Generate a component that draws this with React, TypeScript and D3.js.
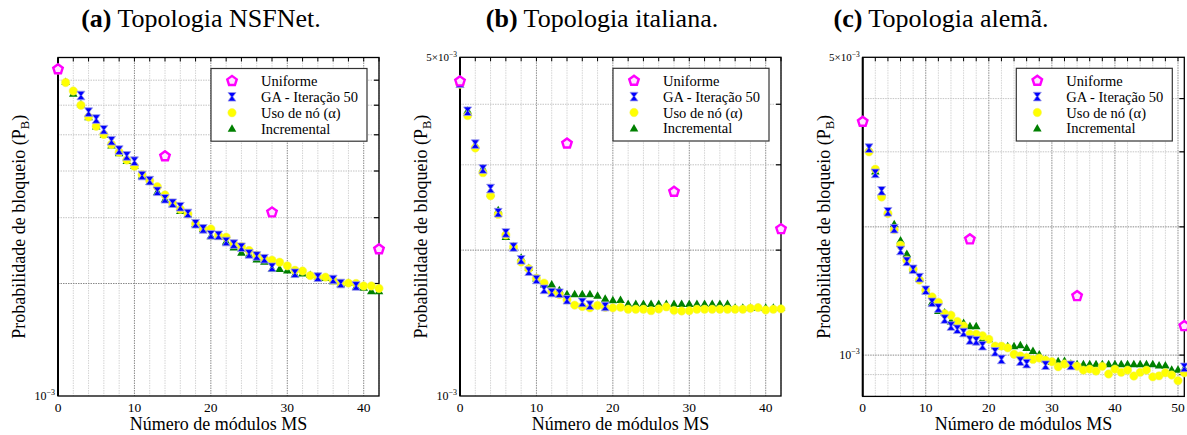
import React from 'react';
import * as d3 from 'd3';

// ---------- text ----------
const titleTags = ['(a)', '(b)', '(c)'];
const titleTexts = [' Topologia NSFNet.', ' Topologia italiana.', ' Topologia alemã.'];
const seriesNames = ['Uniforme', 'GA - Iteração 50', 'Uso de nó (α)', 'Incremental'];
const xLabel = 'Número de módulos MS';
const yLabelMain = 'Probabilidade de bloqueio (P';
const yLabelSub = 'B';

// ---------- data (values in units of 10^-3) ----------
const xTicksAB = [0, 10, 20, 30, 40];
const xTicksC = [0, 10, 20, 30, 40, 50];

// (a) NSFNet
const uniformeXA = [0, 14, 28, 42];
const uniformeA = [7.49, 4.38, 3.10, 2.47];
const gaA = [null, null, null, 6.37, 5.75, 5.51, 5.16, 4.82, 4.55, 4.39, 4.25, 3.89, 3.77, 3.53, 3.37, 3.28, 3.21, 3.08, 2.89, 2.80, 2.70, 2.69, 2.59, 2.55, 2.50, 2.40, 2.37, 2.33, 2.21, null, null, 2.13, null, null, 2.08, null, 2.05, 2.00, null, 1.97, null, null, null];
const usoA = [7.45, 6.90, 6.55, 6.00, 5.58, 5.27, 5.01, 4.71, 4.49, 4.28, 4.12, 3.91, 3.77, 3.63, 3.45, 3.28, 3.16, 3.07, 2.89, 2.80, 2.80, 2.69, 2.66, 2.55, 2.51, 2.45, 2.38, 2.33, 2.31, 2.28, 2.23, 2.17, 2.16, 2.10, 2.08, 2.08, 2.04, 2.00, 2.005, 2.00, 1.97, 1.97, 1.94];
const incA = [7.45, 6.93, 6.45, 6.04, 5.58, 5.27, 5.01, 4.69, 4.47, 4.26, 4.13, 3.89, 3.75, 3.52, 3.36, 3.28, 3.13, 3.07, 2.89, 2.80, 2.68, 2.67, 2.59, 2.50, 2.42, 2.39, 2.32, 2.29, 2.19, 2.19, 2.17, 2.12, 2.13, 2.11, 2.09, 2.07, 2.03, 2.00, 2.01, 1.96, 1.95, 1.91, 1.91];

// (b) italiana
const uniformeXB = [0, 14, 28, 42];
const uniformeB = [4.46, 3.32, 2.64, 2.21];
const gaB = [4.42, 3.87, 3.31, 2.94, 2.68, 2.39, 2.17, 2.03, 1.91, 1.81, 1.74, 1.66, 1.635, 1.63, 1.58, null, 1.56, 1.54, null, 1.53, null, null, null, null, null, null, null, null, null, null, null, null, null, null, null, null, null, null, null, null, null, null, null];
const usoB = [4.40, 3.79, 3.25, 2.89, 2.59, 2.37, 2.15, 2.03, 1.89, 1.83, 1.75, 1.71, 1.64, 1.62, 1.58, 1.54, 1.53, 1.52, 1.537, 1.525, 1.52, 1.525, 1.51, 1.51, 1.51, 1.50, 1.512, 1.527, 1.502, 1.498, 1.50, 1.51, 1.51, 1.51, 1.51, 1.51, 1.51, 1.51, 1.517, 1.522, 1.505, 1.51, 1.513];
const incB = [4.40, 3.88, 3.30, 2.95, 2.62, 2.42, 2.13, 2.04, 1.93, 1.84, 1.75, 1.70, 1.70, 1.655, 1.624, 1.624, 1.624, 1.624, 1.611, 1.588, 1.578, 1.58, 1.549, 1.549, 1.549, 1.549, 1.549, 1.549, 1.549, 1.549, 1.549, 1.549, 1.549, 1.549, 1.549, 1.549, 1.522, 1.522, 1.522, 1.522, 1.522, 1.522, 1.522];

// (c) alemã
const uniformeXC = [0, 17, 34, 51];
const uniformeC = [3.53, 1.87, 1.376, 1.17];
const gaC = [null, 3.06, 2.67, 2.43, 2.17, 1.98, 1.76, 1.66, 1.59, 1.52, 1.42, 1.33, 1.29, 1.215, 1.17, 1.15, 1.13, 1.085, 1.08, 1.052, null, 1.018, 0.977, null, null, 0.968, 0.955, null, null, 0.947, null, null, null, 0.946, null, null, null, null, null, null, null, null, null, null, null, null, null, null, null, null, null, 0.936];
const usoC = [3.53, 3.00, 2.73, 2.35, 2.15, 1.97, 1.81, 1.67, 1.59, 1.50, 1.42, 1.37, 1.33, 1.25, 1.24, 1.20, 1.17, 1.12, 1.12, 1.11, 1.09, 1.05, 1.05, 1.04, 1.005, 0.995, 0.987, 0.977, 0.984, 0.973, 0.965, 0.939, 0.953, 0.950, 0.942, 0.922, 0.927, 0.917, 0.941, 0.903, 0.927, 0.911, 0.922, 0.893, 0.911, 0.922, 0.889, 0.894, 0.909, 0.898, 0.871, 0.909];
const incC = [3.53, 3.05, 2.70, 2.40, 2.17, 2.03, 1.86, 1.73, 1.59, 1.52, 1.42, 1.33, 1.27, 1.26, 1.20, 1.19, 1.19, 1.17, 1.17, 1.09, 1.09, 1.05, 1.05, 1.05, 1.05, 1.056, 1.04, 1.024, 1.005, 0.977, 0.965, 0.968, 0.970, 0.956, 0.953, 0.953, 0.953, 0.953, 0.953, 0.953, 0.953, 0.953, 0.953, 0.953, 0.953, 0.953, 0.953, 0.947, 0.947, 0.925, 0.925, 0.93];

const hGridA = [2, 3, 4, 5, 6, 7];
const hGridB = [2, 3, 4];
const hGridC = [0.9, 1, 2, 3, 4];

// ---------- styling ----------
const FONT = '"Liberation Serif", "Times New Roman", "DejaVu Serif", serif';
const MAGENTA = '#ff00ff';
const BLUE = '#0000ff';
const YELLOW = '#ffff00';
const GREEN = '#008000';

type Panel = {
  left: number; right: number; top: number; bottom: number;
  xMax: number; yMin: number; yMax: number; xTicks: number[];
  uniX: number[]; uni: number[]; ga: (number | null)[]; uso: number[]; inc: number[];
  hGrid: number[]; topLabel: boolean; decade: boolean; titleX: number; idx: number;
};

const panels: Panel[] = [
  { idx: 0, left: 58, right: 379, top: 57.5, bottom: 396, xMax: 42, yMin: 1, yMax: 8.05, xTicks: xTicksAB,
    uniX: uniformeXA, uni: uniformeA, ga: gaA, uso: usoA, inc: incA, hGrid: hGridA, topLabel: false, decade: true, titleX: 201 },
  { idx: 1, left: 460, right: 781, top: 57.3, bottom: 396, xMax: 42, yMin: 1, yMax: 5, xTicks: xTicksAB,
    uniX: uniformeXB, uni: uniformeB, ga: gaB, uso: usoB, inc: incB, hGrid: hGridB, topLabel: true, decade: true, titleX: 602 },
  { idx: 2, left: 862.7, right: 1184.3, top: 57.3, bottom: 396.4, xMax: 51, yMin: 0.8, yMax: 5, xTicks: xTicksC,
    uniX: uniformeXC, uni: uniformeC, ga: gaC, uso: usoC, inc: incC, hGrid: hGridC, topLabel: true, decade: true, titleX: 941 },
];

const pentagonPath = (r: number) => {
  const pts = d3.range(5).map((k) => {
    const a = -Math.PI / 2 + (k * 2 * Math.PI) / 5;
    return [r * Math.cos(a), r * Math.sin(a)];
  });
  return 'M' + pts.map((p) => p.join(',')).join('L') + 'Z';
};
const hourglassPath = 'M-4,-4.3H4L0.9,0L4,4.3H-4L-0.9,0Z';
const trianglePath = 'M0,-4.3L4.3,3.2L-4.3,3.2Z';

const Marker = ({ kind, x, y }: { kind: number; x: number; y: number }) => {
  if (kind === 0)
    return <path d={pentagonPath(5)} transform={`translate(${x},${y})`} fill="#ffe6ff" stroke={MAGENTA} strokeWidth={2.4} />;
  if (kind === 1)
    return <path d={hourglassPath} transform={`translate(${x},${y})`} fill={BLUE} stroke="#9a9ae8" strokeWidth={0.8} />;
  if (kind === 2)
    return <circle cx={x} cy={y} r={4.2} fill={YELLOW} stroke="#f0f060" strokeWidth={0.5} />;
  return <path d={trianglePath} transform={`translate(${x},${y})`} fill={GREEN} />;
};

const PanelView = ({ p }: { p: Panel }) => {
  const x = d3.scaleLinear().domain([0, p.xMax]).range([p.left, p.right]);
  const y = d3.scaleLog().domain([p.yMin, p.yMax]).range([p.bottom, p.top]);
  const vGrid = d3.range(2, p.xMax + 0.001, 2);
  const tickLen = 4;
  const legRight = p.right - 12;
  const legLeft = legRight - 156;
  const legTop = p.top + 11;
  const symX = p.right - 147;
  const cx = (p.left + p.right) / 2;
  const cy = (p.top + p.bottom) / 2;
  const clipId = `clip${p.idx}`;

  const pts = (arr: (number | null)[]) =>
    arr.map((v, i) => (v == null ? null : { i, v })).filter((d) => d != null) as { i: number; v: number }[];

  return (
    <g>
      <defs>
        <clipPath id={clipId}>
          <rect x={p.left - 8} y={p.top - 8} width={p.right - p.left + 16} height={p.bottom - p.top + 8} />
        </clipPath>
      </defs>
      {/* title */}
      <text x={p.titleX} y={27} textAnchor="middle" fontFamily={FONT} fontSize={26} fill="#000">
        <tspan fontWeight="bold">{titleTags[p.idx]}</tspan>
        <tspan>{titleTexts[p.idx]}</tspan>
      </text>
      {/* grid */}
      {vGrid.map((v) => (
        <line key={'v' + v} x1={x(v)} x2={x(v)} y1={p.top} y2={p.bottom}
          stroke={v % 10 === 0 ? '#8a8a8a' : '#d4d4d4'} strokeWidth={1} strokeDasharray="1.5,1" />
      ))}
      {p.hGrid.map((v) => (
        <line key={'h' + v} x1={p.left} x2={p.right} y1={y(v)} y2={y(v)}
          stroke={v === 1 || v === 2 ? '#8a8a8a' : '#c4c4c4'} strokeWidth={1} strokeDasharray="1.5,1" />
      ))}
      {/* ticks top */}
      {vGrid.map((v) => (
        <line key={'t' + v} x1={x(v)} x2={x(v)} y1={p.top} y2={p.top + tickLen} stroke="#000" strokeWidth={1} />
      ))}
      {/* ticks right */}
      {p.hGrid.map((v) => (
        <line key={'r' + v} x1={p.right} x2={p.right - 5} y1={y(v)} y2={y(v)} stroke="#000" strokeWidth={1.2} />
      ))}
      {/* frame */}
      <rect x={p.left} y={p.top} width={p.right - p.left} height={p.bottom - p.top} fill="none" stroke="#000" strokeWidth={1.3} />
      <line x1={p.left} x2={p.left} y1={p.top} y2={p.bottom} stroke="#000" strokeWidth={2} />
      {/* data */}
      <g clipPath={`url(#${clipId})`}>
        {pts(p.inc).map((d) => <Marker key={'i' + d.i} kind={3} x={x(d.i)} y={y(d.v)} />)}
        {pts(p.uso).map((d) => <Marker key={'u' + d.i} kind={2} x={x(d.i)} y={y(d.v)} />)}
        {pts(p.ga).map((d) => <Marker key={'g' + d.i} kind={1} x={x(d.i)} y={y(d.v)} />)}
        {p.uni.map((v, k) => <Marker key={'n' + k} kind={0} x={x(p.uniX[k])} y={y(v)} />)}
      </g>
      {/* x tick labels */}
      {p.xTicks.map((t) => (
        <text key={'xl' + t} x={x(t)} y={411.5} textAnchor="middle" fontFamily={FONT} fontSize={13.5}>{t}</text>
      ))}
      {/* y tick labels */}
      {p.decade && (
        <text x={p.left - 3} y={y(1) + 4} textAnchor="end" fontFamily={FONT} fontSize={12} fill="#000">
          <tspan>10</tspan>
          <tspan dy={-5} fontSize={8}>−3</tspan>
        </text>
      )}
      {p.topLabel && (
        <text x={p.left - 3} y={p.top + 4} textAnchor="end" fontFamily={FONT} fontSize={11} fill="#000">
          <tspan>5×10</tspan>
          <tspan dy={-4.5} fontSize={7.5}>−3</tspan>
        </text>
      )}
      {/* axis labels */}
      <text x={cx} y={430} textAnchor="middle" fontFamily={FONT} fontSize={18}>{xLabel}</text>
      <text transform={`translate(${p.left - 39},${cy}) rotate(-90)`} textAnchor="middle" dy="0.35em" fontFamily={FONT} fontSize={18}>
        <tspan>{yLabelMain}</tspan>
        <tspan fontSize={12.5} dy={4}>{yLabelSub}</tspan>
        <tspan dy={-4}>)</tspan>
      </text>
      {/* legend */}
      <rect x={legLeft} y={legTop} width={legRight - legLeft} height={72.7} fill="#fff" stroke="#333" strokeWidth={1.2} />
      {seriesNames.map((name, k) => {
        const ly = legTop + 12.4 + k * 15.9;
        return (
          <g key={'lg' + k}>
            <Marker kind={k} x={symX} y={ly} />
            <text x={symX + 29} y={ly + 5} fontFamily={FONT} fontSize={14.5}>{name}</text>
          </g>
        );
      })}
    </g>
  );
};

export default function App() {
  return (
    <svg width={1187} height={435} style={{ position: 'absolute', left: 0, top: 0, background: '#fff' }}>
      <rect x={0} y={0} width={1187} height={435} fill="#fff" />
      {panels.map((p) => <PanelView key={p.idx} p={p} />)}
    </svg>
  );
}
